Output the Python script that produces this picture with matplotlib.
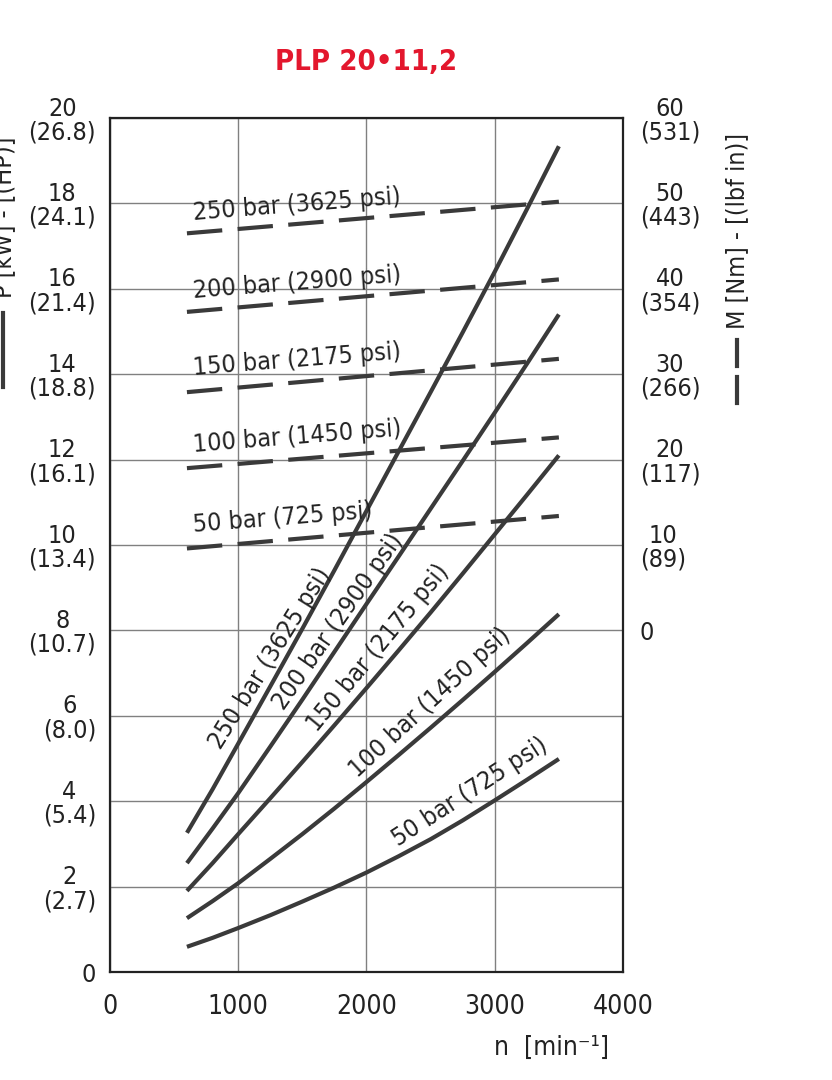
import matplotlib
matplotlib.use("Agg")
import matplotlib.pyplot as plt
from matplotlib.lines import Line2D

# power curves (kW), solid lines
speed = [600, 800, 1000, 1250, 1500, 1750, 2000, 2250, 2500, 2750, 3000, 3250, 3500]
power_50 = [0.59, 0.80, 1.03, 1.33, 1.65, 1.98, 2.33, 2.71, 3.11, 3.55, 4.02, 4.50, 4.99]
power_100 = [1.26, 1.66, 2.08, 2.65, 3.23, 3.83, 4.45, 5.08, 5.72, 6.37, 7.03, 7.70, 8.38]
power_150 = [1.90, 2.55, 3.23, 4.07, 4.92, 5.78, 6.65, 7.53, 8.42, 9.33, 10.25, 11.17, 12.10]
power_200 = [2.55, 3.36, 4.19, 5.28, 6.38, 7.50, 8.62, 9.73, 10.85, 11.97, 13.10, 14.24, 15.40]
power_250 = [3.26, 4.28, 5.35, 6.69, 8.04, 9.41, 10.80, 12.19, 13.58, 14.98, 16.40, 17.86, 19.34]

# torque lines (Nm), dashed
torque_speed = [600, 3500]
torque_50 = [9.6, 13.4]
torque_100 = [19.0, 22.6]
torque_150 = [27.9, 31.8]
torque_200 = [37.3, 41.1]
torque_250 = [46.5, 50.2]

labels = ["50 bar (725 psi)", "100 bar (1450 psi)", "150 bar (2175 psi)",
          "200 bar (2900 psi)", "250 bar (3625 psi)"]

x_ticks = [0, 1000, 2000, 3000, 4000]
p_ticks = [0, 2, 4, 6, 8, 10, 12, 14, 16, 18, 20]
p_labels = ["0", "2\n(2.7)", "4\n(5.4)", "6\n(8.0)", "8\n(10.7)", "10\n(13.4)",
            "12\n(16.1)", "14\n(18.8)", "16\n(21.4)", "18\n(24.1)", "20\n(26.8)"]
m_ticks = [0, 10, 20, 30, 40, 50, 60]
m_labels = ["0", "10\n(89)", "20\n(117)", "30\n(266)", "40\n(354)", "50\n(443)", "60\n(531)"]

plt.rcParams["font.family"] = ["DejaVu Sans"]
plt.rcParams["font.stretch"] = "condensed"
ink = "#3a3a3a"
txt = "#222222"
fs = 18

fig = plt.figure(figsize=(8.32, 10.8), dpi=100)
ax = fig.add_axes([0.1322, 0.1, 0.6166, 0.7907])
ax.set_xlim(0, 4000)
ax.set_ylim(0, 20)
ax.set_xticks(x_ticks)
ax.set_yticks(p_ticks)
ax.set_yticklabels(p_labels, multialignment="center", linespacing=1.0)
ax.tick_params(length=0, labelsize=fs, colors=txt)
ax.tick_params(axis="x", pad=16, labelsize=19)
ax.tick_params(axis="y", pad=10)
ax.grid(True, color="#808080", lw=1.0)
for s in ax.spines.values():
    s.set_linewidth(1.6)
    s.set_color(txt)

ax2 = ax.twinx()
ax2.set_ylim(-40, 60)
ax2.set_yticks(m_ticks)
ax2.set_yticklabels(m_labels, multialignment="center", linespacing=1.0)
ax2.tick_params(length=0, labelsize=fs, colors=txt, pad=12)
for s in ax2.spines.values():
    s.set_visible(False)

for p in [power_50, power_100, power_150, power_200, power_250]:
    ax.plot(speed, p, color=ink, lw=3.0, solid_capstyle="butt", solid_joinstyle="round")

for m in [torque_50, torque_100, torque_150, torque_200, torque_250]:
    ax2.plot(torque_speed, m, color=ink, lw=3.0, dashes=(8.5, 3.7), dash_capstyle="butt")

# labels along solid curves
solid_pos = [(2807, 4.22, 33), (2495, 6.3, 42.5), (2090, 7.6, 50.5),
             (1778, 8.2, 55), (1248, 7.35, 58)]
for lab, (x, y, r) in zip(labels, solid_pos):
    ax.text(x, y, lab, rotation=r, ha="center", va="center", fontsize=fs,
            color=txt, rotation_mode="anchor")

# labels above dashed lines
dash_pos = [10.47, 12.34, 14.15, 15.95, 17.78]
for lab, y in zip(labels, dash_pos):
    ax.text(650, y, lab, rotation=4.5, ha="left", va="center", fontsize=fs,
            color=txt, rotation_mode="anchor")

fig.text(0.4405, 0.9426, "PLP 20\u202211,2", ha="center", va="center",
         fontsize=21, fontweight="bold", color="#e3172d")

fig.text(0.663, 0.030, "n  [min\u207b\u00b9]", ha="center", va="center",
         fontsize=19, color=txt)

# axis titles with line-style keys
fig.text(0.005, 0.724, "P [kW] - [(HP)]", rotation=90, ha="center", va="bottom",
         fontsize=fs, color=txt)
fig.add_artist(Line2D([0.0036, 0.0036], [1 - 313 / 1080, 1 - 387 / 1080],
                      transform=fig.transFigure, color=ink, lw=3.0))

fig.text(0.886, 0.695, "M [Nm] - [(lbf in)]", rotation=90, ha="center", va="bottom",
         fontsize=fs, color=txt)
fig.add_artist(Line2D([0.886, 0.886], [1 - 340 / 1080, 1 - 366 / 1080],
                      transform=fig.transFigure, color=ink, lw=3.0))
fig.add_artist(Line2D([0.886, 0.886], [1 - 377 / 1080, 1 - 403 / 1080],
                      transform=fig.transFigure, color=ink, lw=3.0))

fig.savefig("out.png", dpi=100, facecolor="white")
